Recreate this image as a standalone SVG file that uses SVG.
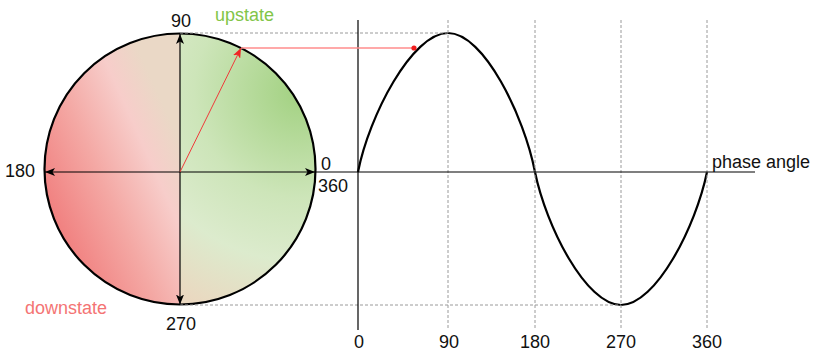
<svg xmlns="http://www.w3.org/2000/svg" width="813" height="352" viewBox="0 0 813 352">
<style>
  text { font-family: "Liberation Sans", Arial, sans-serif; font-size: 18px; fill: #111; }
  .mid { text-anchor: middle; }
  .axis { stroke: #000; stroke-width: 1.2; fill: none; }
  .dash { stroke: #9a9a9a; stroke-width: 1; stroke-dasharray: 3 2; fill: none; }
  .wave { stroke: #000; stroke-width: 2.2; fill: none; }
</style>
<defs>
  <marker id="arr" viewBox="0 0 10 8" refX="10" refY="4" markerWidth="10" markerHeight="8" markerUnits="userSpaceOnUse" orient="auto-start-reverse">
    <path d="M0,0 L10,4 L0,8 L2.5,4 Z" fill="#000"/>
  </marker>
  <marker id="arrRed" viewBox="0 0 10 8" refX="10" refY="4" markerWidth="10" markerHeight="8" markerUnits="userSpaceOnUse" orient="auto">
    <path d="M0,0 L10,4 L0,8 L2.5,4 Z" fill="#f02424"/>
  </marker>
  <clipPath id="circClip">
    <circle cx="180" cy="169" r="135.5"/>
  </clipPath>
  <linearGradient id="gRed" gradientUnits="userSpaceOnUse" x1="50" y1="240" x2="195" y2="175">
    <stop offset="0" stop-color="#f07878"/>
    <stop offset="0.45" stop-color="#f4a8a4"/>
    <stop offset="0.78" stop-color="#f7cdca"/>
    <stop offset="1" stop-color="#ead8c6"/>
  </linearGradient>
  <radialGradient id="gGreen" gradientUnits="userSpaceOnUse" cx="300" cy="92" r="235">
    <stop offset="0" stop-color="#a2d181"/>
    <stop offset="0.45" stop-color="#cde5b9"/>
    <stop offset="0.72" stop-color="#dcebcd"/>
    <stop offset="1" stop-color="#ead8c0"/>
  </radialGradient>
</defs>

<g id="phase-circle">
  <g clip-path="url(#circClip)">
    <rect x="40" y="30" width="140" height="280" fill="url(#gRed)"/>
    <rect x="180" y="30" width="140" height="280" fill="url(#gGreen)"/>
  </g>
  <circle cx="180" cy="169" r="135.5" fill="none" stroke="#000" stroke-width="2.2"/>
</g>

<g id="sine-wave">
  <path class="wave" d="M358,172 C369,116 412,33 448,33 C484,33 524,116 535,172 C546,226 586,305 621,305 C656,305 696,226 707,172"/>
</g>

<g id="connectors">
  <line class="dash" x1="180" y1="33" x2="448" y2="33"/>
  <line class="dash" x1="180" y1="305" x2="621" y2="305"/>
  <line class="dash" x1="448" y1="20" x2="448" y2="330"/>
  <line class="dash" x1="535" y1="20" x2="535" y2="330"/>
  <line class="dash" x1="621" y1="20" x2="621" y2="330"/>
  <line class="dash" x1="707" y1="20" x2="707" y2="330"/>
  <line class="axis" x1="358" y1="20" x2="358" y2="330"/>
  <line class="axis" x1="315" y1="172" x2="755" y2="172"/>
  <line class="axis" x1="45" y1="172" x2="315" y2="172" marker-start="url(#arr)" marker-end="url(#arr)"/>
  <line class="axis" x1="180" y1="34" x2="180" y2="304.5" marker-start="url(#arr)" marker-end="url(#arr)"/>
  <line x1="180" y1="172" x2="241" y2="48" stroke="#f03a3a" stroke-width="1" marker-end="url(#arrRed)"/>
  <line x1="241" y1="48" x2="414" y2="48" stroke="#ff8c8c" stroke-width="1.3"/>
  <circle cx="414" cy="48" r="2.6" fill="#f01e1e"/>
</g>

<g id="labels">
  <text class="mid" x="181" y="26.5">90</text>
  <text x="215" y="20.5" style="fill:#82c548">upstate</text>
  <text x="5" y="176.5">180</text>
  <text x="321" y="169.5">0</text>
  <text x="318" y="191.5">360</text>
  <text class="mid" x="181" y="329.5">270</text>
  <text x="25" y="314" style="fill:#f47474">downstate</text>
  <text x="712" y="168">phase angle</text>
  <text class="mid" x="359" y="348">0</text>
  <text class="mid" x="449" y="348">90</text>
  <text class="mid" x="535" y="348">180</text>
  <text class="mid" x="621" y="348">270</text>
  <text class="mid" x="707" y="348">360</text>
</g>
</svg>
